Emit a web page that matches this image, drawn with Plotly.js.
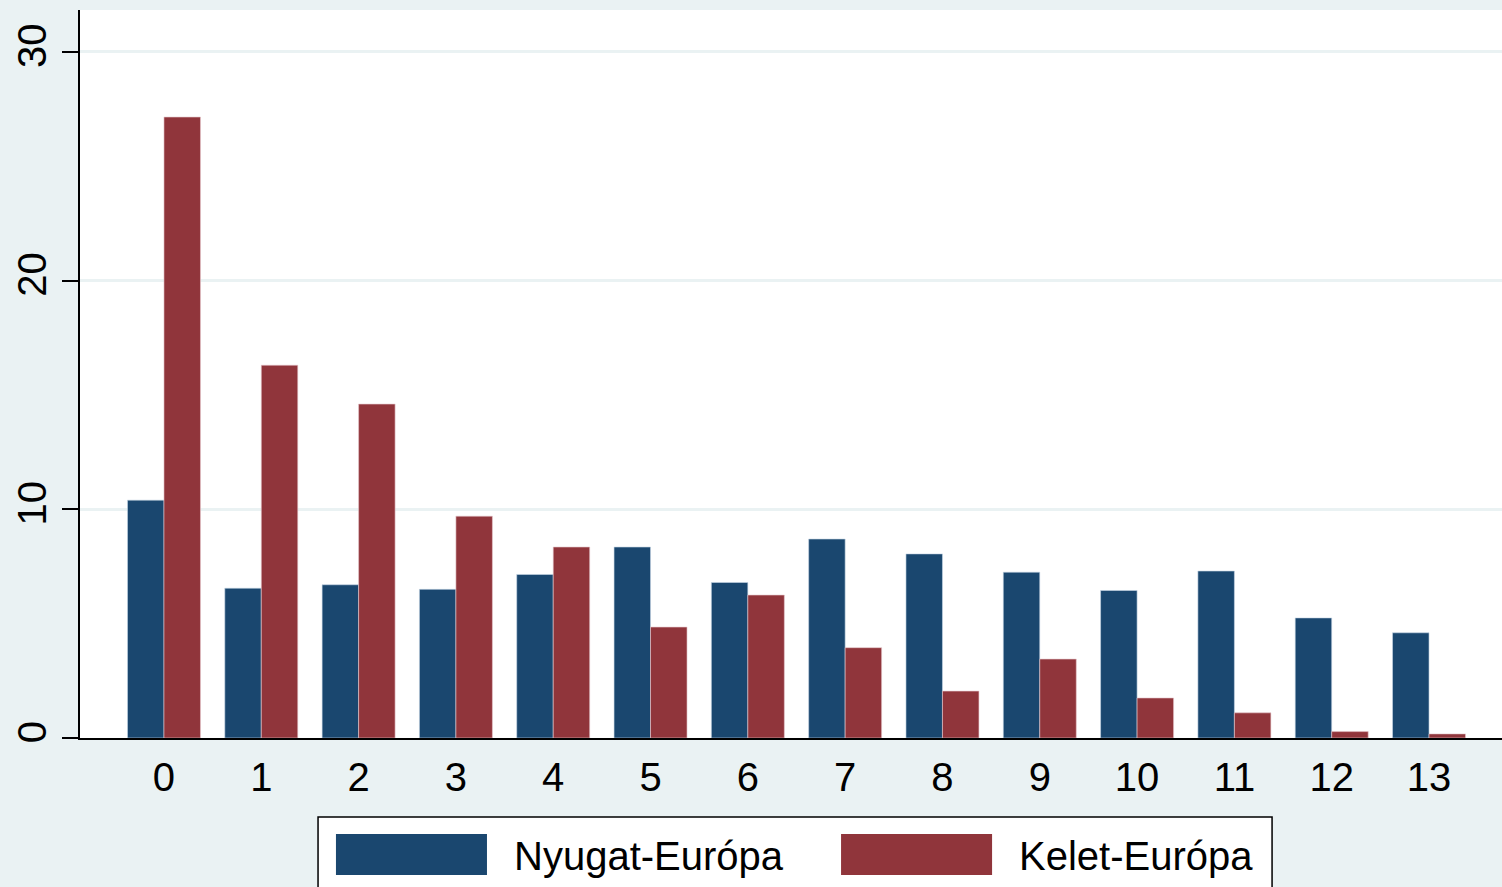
<!DOCTYPE html>
<html>
<head>
<meta charset="utf-8">
<script src="https://cdn.plot.ly/plotly-3.0.1.min.js"></script>
<style>
  html, body { margin: 0; padding: 0; background: #eaf2f3; }
  #chart { width: 1502px; height: 887px; }
</style>
</head>
<body>
<div id="chart"></div>
<script>
// ---- Data ----
const categories = ["0","1","2","3","4","5","6","7","8","9","10","11","12","13"];
const seriesNames = ["Nyugat-Európa", "Kelet-Európa"];
const nyugat = [10.4, 6.55, 6.7, 6.5, 7.15, 8.35, 6.8, 8.7, 8.05, 7.25, 6.45, 7.3, 5.25, 4.6];
const kelet  = [27.15, 16.3, 14.6, 9.7, 8.35, 4.85, 6.25, 3.95, 2.05, 3.45, 1.75, 1.1, 0.28, 0.18];
const yTicks = [0, 10, 20, 30];

// ---- Style ----
const navy = "#1a476f";
const maroon = "#90353b";
const bg = "#eaf2f3";
const fontFam = "Liberation Sans, Arial, Helvetica, sans-serif";

const traces = [
  { type: "bar", name: seriesNames[0], x: categories, y: nyugat,
    marker: { color: navy, line: { width: 1, color: "rgba(200,215,230,0.6)" } }, showlegend: false, hoverinfo: "none" },
  { type: "bar", name: seriesNames[1], x: categories, y: kelet,
    marker: { color: maroon, line: { width: 1, color: "rgba(230,200,205,0.6)" } }, showlegend: false, hoverinfo: "none" }
];

// legend drawn in paper coordinates (plot area: x 80..1502, y 10..738)
const legY0 = -0.2300, legY1 = -0.1085;
const swY0 = -0.1882, swY1 = -0.1319;
const shapes = [
  { type: "rect", xref: "paper", yref: "paper", x0: 0.1674, x1: 0.8383, y0: legY0, y1: legY1,
    fillcolor: "white", line: { color: "black", width: 1.5 } },
  { type: "rect", xref: "paper", yref: "paper", x0: 0.1800, x1: 0.2862, y0: swY0, y1: swY1,
    fillcolor: navy, line: { width: 0 } },
  { type: "rect", xref: "paper", yref: "paper", x0: 0.5352, x1: 0.6414, y0: swY0, y1: swY1,
    fillcolor: maroon, line: { width: 0 } }
];
const annotations = [
  { xref: "paper", yref: "paper", x: 0.3040, y: -0.1620, xanchor: "left", yanchor: "middle",
    text: seriesNames[0], showarrow: false, font: { size: 40, color: "black", family: fontFam } },
  { xref: "paper", yref: "paper", x: 0.6590, y: -0.1620, xanchor: "left", yanchor: "middle",
    text: seriesNames[1], showarrow: false, font: { size: 40, color: "black", family: fontFam } }
];

const layout = {
  width: 1502, height: 887,
  margin: { l: 80, r: 0, t: 10, b: 149, pad: 0 },
  paper_bgcolor: bg,
  plot_bgcolor: "white",
  font: { family: fontFam, color: "black" },
  barmode: "group",
  bargap: 0.25,
  bargroupgap: 0,
  xaxis: {
    type: "category",
    range: [-0.863, 13.75],
    showline: true, linecolor: "black", linewidth: 2,
    ticks: "", showgrid: false, zeroline: false,
    ticklabelstandoff: 3,
    tickfont: { size: 40, family: fontFam, color: "black" },
    fixedrange: true
  },
  yaxis: {
    range: [0, 31.83],
    tickvals: yTicks,
    ticktext: yTicks.map(String),
    tickangle: -90,
    showline: true, linecolor: "black", linewidth: 2,
    ticks: "outside", ticklen: 16, tickwidth: 2, tickcolor: "black",
    ticklabelstandoff: 0,
    showgrid: true, gridcolor: bg, gridwidth: 3,
    zeroline: false,
    tickfont: { size: 40, family: fontFam, color: "black" },
    fixedrange: true
  },
  shapes: shapes,
  annotations: annotations,
  showlegend: false
};

Plotly.newPlot("chart", traces, layout, { displayModeBar: false, staticPlot: true });
</script>
</body>
</html>
